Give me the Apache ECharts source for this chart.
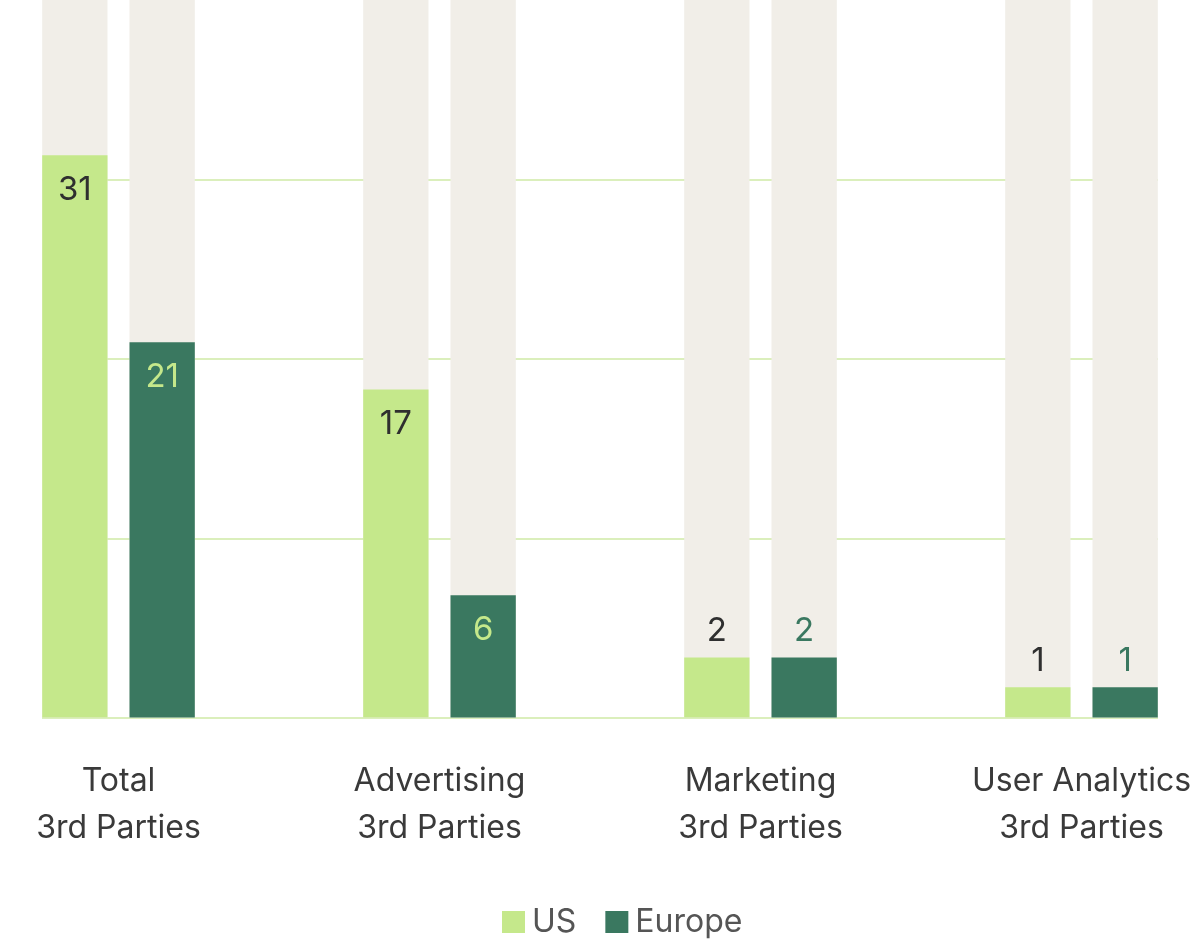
<!DOCTYPE html>
<html>
<head>
<meta charset="utf-8">
<script src="https://cdn.jsdelivr.net/npm/echarts@6/dist/echarts.min.js"></script>
<style>
html,body{margin:0;padding:0;background:#fff;}
#chart{width:1200px;height:943px;}
</style>
</head>
<body>
<div id="chart"></div>
<script>
var categories = ['Total\n3rd Parties', 'Advertising\n3rd Parties', 'Marketing\n3rd Parties', 'User Analytics\n3rd Parties'];
var seriesNames = ['US', 'Europe'];
// bar heights
var usValues = [31.35, 18.28, 3.34, 1.69];
var europeValues = [20.92, 6.82, 3.34, 1.69];
// numbers printed on the bars
var usLabels = ['31', '17', '2', '1'];
var europeLabels = ['21', '6', '2', '1'];
var yMax = 40;
var gridMax = 30;
var yStep = 10;

var US_COLOR = '#c5e88b';
var EU_COLOR = '#3a7860';
var BG_COLOR = '#f1eee8';
var GRID_COLOR = '#cfeaa6';
var FONT = 'Inter';

function buildData(values, labels, insideColor, outsideColor) {
  return values.map(function (v, i) {
    var inside = v > 5;
    return {
      value: v,
      label: {
        show: true,
        formatter: labels[i],
        position: inside ? 'insideTop' : 'top',
        distance: inside ? 18 : 10,
        color: inside ? insideColor : outsideColor,
        fontFamily: FONT,
        fontSize: 33
      }
    };
  });
}

var chart = echarts.init(document.getElementById('chart'), null, {renderer: 'canvas'});
var option = {
  animation: false,
  backgroundColor: '#ffffff',
  textStyle: {fontFamily: FONT},
  grid: [
    {left: -42, right: -42, top: 0, bottom: 225.5, containLabel: false, outerBoundsMode: 'none'},
    {left: 42, right: 42, top: 179.9, bottom: 225.5, containLabel: false, outerBoundsMode: 'none'}
  ],
  legend: {
    data: seriesNames,
    top: 906,
    left: 502,
    itemWidth: 23,
    itemHeight: 22,
    itemGap: 29,
    icon: 'rect',
    padding: 0,
    textStyle: {fontFamily: FONT, fontSize: 32, color: '#555555', padding: [0, 0, 0, 2]}
  },
  xAxis: [
    {
      type: 'category', gridIndex: 0, data: categories,
      axisLine: {show: false}, axisTick: {show: false},
      axisLabel: {
        margin: 40, fontFamily: FONT, fontSize: 32, lineHeight: 47, color: '#3a3a3a', interval: 0
      }
    },
    {
      type: 'category', gridIndex: 1, data: categories,
      axisLine: {show: false}, axisTick: {show: false}, axisLabel: {show: false}
    }
  ],
  yAxis: [
    {
      type: 'value', gridIndex: 0, min: 0, max: yMax, interval: yStep,
      axisLine: {show: false}, axisTick: {show: false}, axisLabel: {show: false}, splitLine: {show: false}
    },
    {
      type: 'value', gridIndex: 1, min: 0, max: gridMax, interval: yStep,
      axisLine: {show: false}, axisTick: {show: false}, axisLabel: {show: false},
      splitLine: {show: true, lineStyle: {color: GRID_COLOR, width: 1.5}}
    }
  ],
  series: [
    {
      name: seriesNames[0], type: 'bar', xAxisIndex: 0, yAxisIndex: 0,
      barWidth: 65.3, barGap: '33.7%',
      showBackground: true, backgroundStyle: {color: BG_COLOR},
      itemStyle: {color: US_COLOR},
      data: buildData(usValues, usLabels, '#2f2f2f', '#2f2f2f')
    },
    {
      name: seriesNames[1], type: 'bar', xAxisIndex: 0, yAxisIndex: 0,
      barWidth: 65.3, barGap: '33.7%',
      showBackground: true, backgroundStyle: {color: BG_COLOR},
      itemStyle: {color: EU_COLOR},
      data: buildData(europeValues, europeLabels, US_COLOR, EU_COLOR)
    }
  ]
};
chart.setOption(option);
</script>
</body>
</html>
